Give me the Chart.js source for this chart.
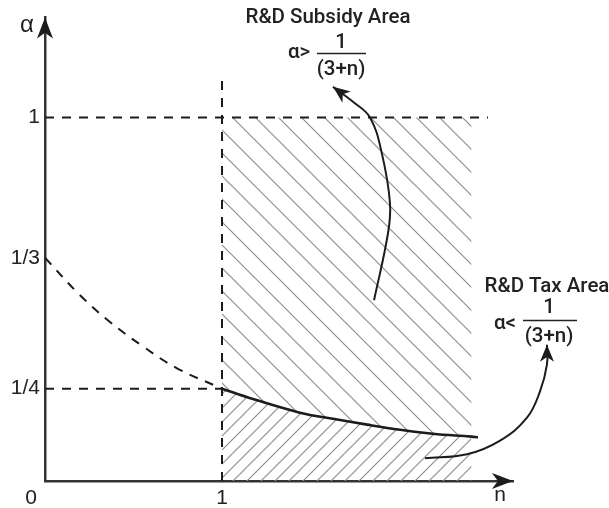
<!DOCTYPE html>
<html>
<head>
<meta charset="utf-8">
<script src="https://cdn.jsdelivr.net/npm/chart.js@4/dist/chart.umd.min.js"></script>
<style>
  html,body{margin:0;padding:0;background:#fff;}
  #wrap{width:609px;height:508px;position:relative;}
</style>
</head>
<body>
<div id="wrap"><canvas id="c"></canvas></div>
<script>
// α 对 n 的示意图：补贴区 / 征税区
// 坐标是示意刻度（原图非等比），数值都按图上位置读出来的

const yTickVals = [0.254, 0.614, 1];
const yTickLabels = ["1/4", "1/3", "1"];
const xTickVals = [1];
const xTickLabels = ["1"];

// 实线 α = 1/(3+n)，n ≥ 1
const curveN = [1, 1.175, 1.44, 1.627, 1.82, 2.006, 2.19, 2.41, 2.446];
const curveA = [0.254, 0.2255, 0.188, 0.171, 0.155, 0.141, 0.130, 0.122, 0.120];
// 虚线部分，0 ≤ n ≤ 1
const dashN = [0, 0.198, 0.367, 0.554, 0.746, 1];
const dashA = [0.614, 0.511, 0.4375, 0.37, 0.31, 0.254];

const hatchEnd = 2.41;      // 阴影区右边界
const topLineEnd = 2.503;   // α=1 虚线的终点
const vLineTop = 1.103;     // n=1 竖虚线顶端

// 两个弯箭头（数据坐标，箭头尖在前）
const subsidyArrowN = [1.627, 1.740, 1.836, 1.904, 1.949, 1.938, 1.859];
const subsidyArrowA = [1.084, 1.043, 1.0, 0.899, 0.764, 0.682, 0.497];
const taxArrowN = [2.836, 2.836, 2.797, 2.723, 2.571, 2.384, 2.147];
const taxArrowA = [0.375, 0.321, 0.247, 0.174, 0.111, 0.0734, 0.0625];

const pts = (xs, ys) => xs.map((x, i) => ({x, y: ys[i]}));

const ctx = document.getElementById("c").getContext("2d");

function hatch(step, forward){
  const c = document.createElement("canvas"); c.width = c.height = step;
  const g = c.getContext("2d");
  g.strokeStyle = "#8e8e8e"; g.lineWidth = 1.2;
  g.beginPath();
  if(forward){ // "/"
    g.moveTo(-1, step+1); g.lineTo(step+1, -1);
    g.moveTo(-1, 1); g.lineTo(1, -1);
    g.moveTo(step-1, step+1); g.lineTo(step+1, step-1);
  } else {     // "\"
    g.moveTo(-1, -1); g.lineTo(step+1, step+1);
    g.moveTo(step-1, -1); g.lineTo(step+1, 1);
    g.moveTo(-1, step-1); g.lineTo(1, step+1);
  }
  g.stroke();
  return ctx.createPattern(c, "repeat");
}

const clipN = curveN.filter(n => n <= hatchEnd);
const clipA = curveA.slice(0, clipN.length);

const INK = "#1c1c1c";
const DASH = [9, 8];

function line(data, extra){
  return Object.assign({data, showLine:true, pointRadius:0, borderColor:INK,
    borderWidth:2, fill:false, order:1}, extra);
}

// 箭头、文字、坐标轴箭头
const decor = {
  id: "decor",
  afterDatasetsDraw(chart){
    const g = chart.ctx, xs = chart.scales.x, ys = chart.scales.y, a = chart.chartArea;
    const P = (n, v) => [xs.getPixelForValue(n), ys.getPixelForValue(v)];

    function head(tx, ty, dx, dy, len, half){
      const d = Math.hypot(dx, dy); dx /= d; dy /= d;
      const bx = tx - dx*len, by = ty - dy*len;
      const nx = tx - dx*len*0.72, ny = ty - dy*len*0.72;
      g.beginPath();
      g.moveTo(tx, ty);
      g.lineTo(bx - dy*half, by + dx*half);
      g.lineTo(nx, ny);
      g.lineTo(bx + dy*half, by - dx*half);
      g.closePath(); g.fill();
    }
    g.save();
    g.fillStyle = INK;
    // 坐标轴箭头
    head(a.left, a.top, 0, -1, 21, 8);
    head(a.right, a.bottom, 1, 0, 21, 8);
    // 弯箭头头部
    [[subsidyArrowN, subsidyArrowA], [taxArrowN, taxArrowA]].forEach(([ns, as]) => {
      const [tx, ty] = P(ns[0], as[0]);
      const [px, py] = P(ns[1], as[1]);
      head(tx, ty, tx - px, ty - py, 17, 7);
    });

    // 文字
    g.fillStyle = "#222";
    g.textAlign = "center"; g.textBaseline = "middle";
    g.font = "24px 'Liberation Sans', Arial, sans-serif";
    g.fillText("α", 27, 25);
    g.font = "21px 'Liberation Sans', Arial, sans-serif";
    g.fillText("0", xs.getPixelForValue(0) - 14, 498);
    g.fillText("n", 500, 495);

    g.font = "500 20.5px Roboto, 'Open Sans', sans-serif";
    g.fillText("R&D Subsidy Area", 328, 18);
    g.fillText("α>", 299, 53);
    g.fillText("1", 341, 43);
    g.fillText("(3+n)", 341, 70);
    g.fillText("R&D Tax Area", 547, 287);
    g.fillText("α<", 505, 324);
    g.fillText("1", 549, 308);
    g.fillText("(3+n)", 549, 337);
    g.strokeStyle = "#222"; g.lineWidth = 1.5;
    g.beginPath();
    g.moveTo(317, 53.5); g.lineTo(366, 53.5);
    g.moveTo(523, 320.5); g.lineTo(577, 320.5);
    g.stroke();
    g.restore();
  }
};

new Chart(ctx, {
  type: "scatter",
  data: { datasets: [
    // 补贴区阴影：α=1 到曲线之间
    {data: pts(clipN, clipN.map(() => 1)), showLine:true, pointRadius:0, borderWidth:0,
     borderColor:"rgba(0,0,0,0)", fill:"+1", backgroundColor: hatch(23, false), order:10},
    // 征税区阴影：曲线到 0
    {data: pts(clipN, clipA), showLine:true, pointRadius:0, borderWidth:0, tension:0.4,
     borderColor:"rgba(0,0,0,0)", fill:"origin", backgroundColor: hatch(14, true), order:9},
    line(pts(curveN, curveA), {borderWidth:2.6, tension:0.4}),
    line(pts(dashN, dashA), {borderDash:DASH, tension:0.4}),
    line(pts([0, topLineEnd], [1, 1]), {borderDash:DASH, clip:false}),
    line(pts([0, 1], [0.254, 0.254]), {borderDash:DASH}),
    line(pts([1, 1], [0, vLineTop]), {borderDash:DASH}),
    line(pts(subsidyArrowN, subsidyArrowA), {tension:0.4, clip:false}),
    line(pts(taxArrowN, taxArrowA), {tension:0.4, clip:false}),
  ]},
  options: {
    responsive: true, maintainAspectRatio: false, animation: false,
    devicePixelRatio: 1,
    layout: {padding: {left:0, top:12, right:96, bottom:0}},
    plugins: {legend:{display:false}, tooltip:{enabled:false}},
    scales: {
      x: {
        type:"linear", min:0, max:2.644,
        grid:{display:false, drawTicks:false},
        border:{color:"#333", width:2.5},
        afterFit: s => { s.height = 27; },
        afterBuildTicks: s => { s.ticks = xTickVals.map(v => ({value:v})); },
        ticks:{padding:5, color:"#222", font:{family:"'Liberation Sans', Arial, sans-serif", size:21},
               callback:(v, i) => xTickLabels[i]}
      },
      y: {
        type:"linear", min:0, max:1.2745,
        grid:{display:false, drawTicks:false},
        border:{color:"#333", width:2.5},
        afterFit: s => { s.width = 45; },
        afterBuildTicks: s => { s.ticks = yTickVals.map(v => ({value:v})); },
        ticks:{padding:5, color:"#222", font:{family:"'Liberation Sans', Arial, sans-serif", size:21},
               callback:(v, i) => yTickLabels[i]}
      }
    }
  },
  plugins: [decor]
});
</script>
</body>
</html>
